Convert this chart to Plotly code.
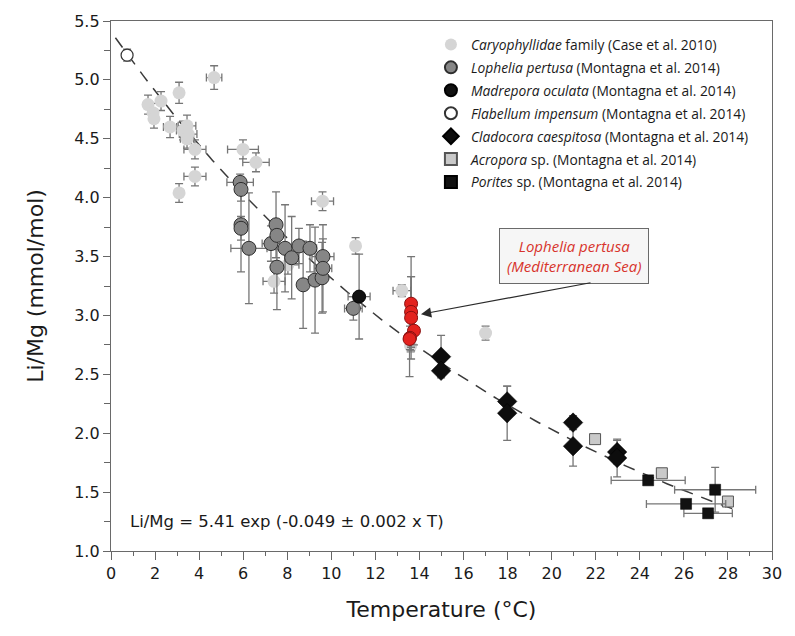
import numpy as np
import plotly.graph_objects as go

# ---- data: Li/Mg (mmol/mol) versus temperature (°C) ----
cary_t = [1.68, 1.91, 1.95, 2.27, 3.09, 2.68, 3.45, 3.27, 3.50, 3.45, 3.81, 4.68, 5.99, 6.58,
          3.81, 3.09, 7.40, 8.03, 9.60, 11.10, 13.20, 17.00, 13.60]
cary_v = [4.79, 4.72, 4.67, 4.82, 4.89, 4.60, 4.61, 4.57, 4.54, 4.50, 4.41, 5.02, 4.41, 4.30,
          4.18, 4.04, 3.29, 3.43, 3.97, 3.59, 3.21, 2.85, 2.74]
cary_ey = [0.08, 0.08, 0.08, 0.08, 0.09, 0.09, 0.09, 0.08, 0.08, 0.08, 0.08, 0.10, 0.08, 0.08,
           0.08, 0.08, 0.10, 0.08, 0.08, 0.07, 0.05, 0.06, 0.05]
cary_ex = [0.15, 0.15, 0.15, 0.2, 0.0, 0.3, 0.4, 0.3, 0.4, 0.3, 0.5, 0.35, 0.7, 0.6,
           0.5, 0.0, 0.5, 0.5, 0.5, 0.15, 0.4, 0.0, 0.0]

lop_t = [5.86, 5.90, 5.90, 5.90, 6.26, 7.49, 7.26, 7.90, 8.20, 8.53, 9.03, 9.62, 8.72,
         9.26, 9.58, 9.62, 11.00, 7.53, 7.53]
lop_v = [4.13, 4.07, 3.77, 3.74, 3.57, 3.77, 3.61, 3.57, 3.49, 3.59, 3.57, 3.50, 3.26,
         3.30, 3.32, 3.40, 3.06, 3.68, 3.41]
lop_ey = [0.07, 0.10, 0.40, 0.10, 0.47, 0.28, 0.15, 0.37, 0.35, 0.15, 0.20, 0.15, 0.37,
          0.45, 0.30, 0.37, 0.10, 0.12, 0.36]
lop_ex = [0.6, 0.0, 0.0, 0.0, 0.82, 0.0, 0.4, 0.0, 0.3, 0.0, 0.3, 0.5, 0.0,
          0.3, 0.0, 0.4, 0.4, 0.0, 0.0]

mad_t, mad_v, mad_ey, mad_ex = [11.26], [3.16], [0.36], [0.5]
fla_t, fla_v, fla_ey, fla_ex = [0.73], [5.21], [0.05], [0.2]

med_t = [13.62, 13.62, 13.62, 13.75, 13.57, 13.55]
med_v = [3.10, 3.03, 2.98, 2.87, 2.81, 2.80]
med_ey = [0.40, 0.30, 0.35, 0.12, 0.10, 0.32]

cla_t = [14.98, 14.98, 17.98, 17.98, 20.97, 20.97, 22.97, 22.97]
cla_v = [2.65, 2.53, 2.27, 2.17, 2.09, 1.89, 1.84, 1.79]
cla_ey = [0.18, 0.05, 0.13, 0.23, 0.06, 0.17, 0.10, 0.16]

acr_t = [21.97, 25.00, 28.00]
acr_v = [1.95, 1.66, 1.42]

por_t = [24.38, 27.42, 26.10, 27.10]
por_v = [1.60, 1.52, 1.40, 1.32]
por_ey = [0.0, 0.19, 0.0, 0.0]
por_ex = [1.68, 1.84, 1.80, 1.10]

# exponential fit: Li/Mg = A exp(B T)
FIT_A, FIT_B = 5.41, -0.049
fit_range = [0.2, 28.5]

x_ticks = list(range(0, 31, 2))
y_ticks = [1.0, 1.5, 2.0, 2.5, 3.0, 3.5, 4.0, 4.5, 5.0, 5.5]

# ---- styling ----
AX_FONT = "DejaVu Sans, Verdana, sans-serif"
LEG_FONT = "Open Sans, Noto Sans, sans-serif"
ERR = "#767676"


def err(vals, visible=True):
    return dict(type="data", array=vals, visible=visible, color=ERR, thickness=1.3, width=4)


fig = go.Figure()

fit_t = np.linspace(fit_range[0], fit_range[1], 200)
fig.add_trace(go.Scatter(x=fit_t, y=FIT_A * np.exp(FIT_B * fit_t), mode="lines",
                         line=dict(color="#3a3a3a", width=1.5, dash="12px,9px"),
                         showlegend=False, hoverinfo="skip"))

fig.add_trace(go.Scatter(
    x=cary_t, y=cary_v, mode="markers", legendgroup="a",
    name="<i>Caryophyllidae</i> family (Case et al. 2010)",
    marker=dict(symbol="circle", size=13, color="#d5d5d5", line=dict(width=0)),
    error_y=err(cary_ey), error_x=err(cary_ex)))

fig.add_trace(go.Scatter(
    x=lop_t, y=lop_v, mode="markers", legendgroup="b",
    name="<i>Lophelia pertusa</i> (Montagna et al. 2014)",
    marker=dict(symbol="circle", size=14, color="#868686", line=dict(width=1, color="#2e2e2e")),
    error_y=err(lop_ey), error_x=err(lop_ex)))

fig.add_trace(go.Scatter(
    x=mad_t, y=mad_v, mode="markers", legendgroup="c",
    name="<i>Madrepora oculata</i> (Montagna et al. 2014)",
    marker=dict(symbol="circle", size=13, color="#111111", line=dict(width=1, color="#000000")),
    error_y=err(mad_ey), error_x=err(mad_ex)))

fig.add_trace(go.Scatter(
    x=fla_t, y=fla_v, mode="markers", legendgroup="d",
    name="<i>Flabellum impensum</i> (Montagna et al. 2014)",
    marker=dict(symbol="circle", size=12, color="#ffffff", line=dict(width=1.2, color="#333333")),
    error_y=err(fla_ey), error_x=err(fla_ex)))

fig.add_trace(go.Scatter(
    x=cla_t, y=cla_v, mode="markers", legendgroup="e",
    name="<i>Cladocora caespitosa</i> (Montagna et al. 2014)",
    marker=dict(symbol="diamond", size=15, color="#0d0d0d", line=dict(width=0.5, color="#000000")),
    error_y=err(cla_ey)))

fig.add_trace(go.Scatter(
    x=acr_t, y=acr_v, mode="markers", legendgroup="f",
    name="<i>Acropora</i> sp. (Montagna et al. 2014)",
    marker=dict(symbol="square", size=11, color="#c9c9c9", line=dict(width=1, color="#555555"))))

fig.add_trace(go.Scatter(
    x=por_t, y=por_v, mode="markers", legendgroup="g",
    name="<i>Porites</i> sp. (Montagna et al. 2014)",
    marker=dict(symbol="square", size=11, color="#111111", line=dict(width=0.5, color="#000000")),
    error_y=err(por_ey), error_x=err(por_ex)))

fig.add_trace(go.Scatter(
    x=med_t, y=med_v, mode="markers", showlegend=False,
    marker=dict(symbol="circle", size=13, color="#e3231f", line=dict(width=1, color="#8a1010")),
    error_y=err(med_ey)))

# equation of the fit
fig.add_annotation(x=0.77, y=1.25, xref="x", yref="y", xanchor="left", yanchor="middle",
                   text="Li/Mg = 5.41 exp (-0.049 ± 0.002 x T)", showarrow=False,
                   font=dict(family=AX_FONT, size=16.5, color="#1a1a1a"))

# callout for the Mediterranean samples
fig.add_annotation(x=21.0, y=3.505, xref="x", yref="y", xanchor="center", yanchor="middle",
                   text="<i>Lophelia pertusa<br>(Mediterranean Sea)</i>", showarrow=False,
                   font=dict(family=LEG_FONT, size=15, color="#d8342c"),
                   bgcolor="#f6f6f6", bordercolor="#6a6a6a", borderwidth=1, borderpad=7)
fig.add_annotation(x=14.07, y=3.01, xref="x", yref="y", ax=21.83, ay=3.28, axref="x", ayref="y",
                   text="", showarrow=True, arrowhead=2, arrowsize=1.7, arrowwidth=1.2,
                   arrowcolor="#2a2a2a")

fig.update_layout(
    width=795, height=636,
    margin=dict(l=111, r=23, t=18, b=85),
    paper_bgcolor="white", plot_bgcolor="white",
    font=dict(family=AX_FONT, color="#1a1a1a"),
    legend=dict(x=0.484, y=0.985, xanchor="left", yanchor="top",
                font=dict(family=LEG_FONT, size=13.8, color="#1a1a1a"),
                bgcolor="rgba(0,0,0,0)", traceorder="grouped", tracegroupgap=2,
                itemsizing="constant"),
    showlegend=True,
)

fig.update_xaxes(
    range=[0, 30], tickvals=x_ticks, ticktext=[str(v) for v in x_ticks],
    ticks="outside", ticklen=8, tickwidth=1.2, tickcolor="#666",
    minor=dict(dtick=1, ticks="outside", ticklen=4, tickwidth=1.2, tickcolor="#666"),
    showline=True, linecolor="#6a6a6a", linewidth=1.4, mirror=True,
    showgrid=False, zeroline=False,
    tickfont=dict(family=AX_FONT, size=16, color="#1a1a1a"),
    title=dict(text="Temperature (°C)", font=dict(family=AX_FONT, size=22, color="#1a1a1a"),
               standoff=19),
)
fig.update_yaxes(
    range=[1.0, 5.5], tickvals=y_ticks, ticktext=[f"{v:.1f}" for v in y_ticks],
    ticks="outside", ticklen=7, tickwidth=1.2, tickcolor="#666",
    minor=dict(dtick=0.25, tick0=1.0, ticks="outside", ticklen=6, tickwidth=1.2, tickcolor="#666"),
    showline=True, linecolor="#6a6a6a", linewidth=1.4, mirror=True,
    showgrid=False, zeroline=False,
    tickfont=dict(family=AX_FONT, size=16, color="#1a1a1a"),
    title=dict(text="Li/Mg (mmol/mol)", font=dict(family=AX_FONT, size=22, color="#1a1a1a"),
               standoff=24),
)

fig.write_html("out.html")
